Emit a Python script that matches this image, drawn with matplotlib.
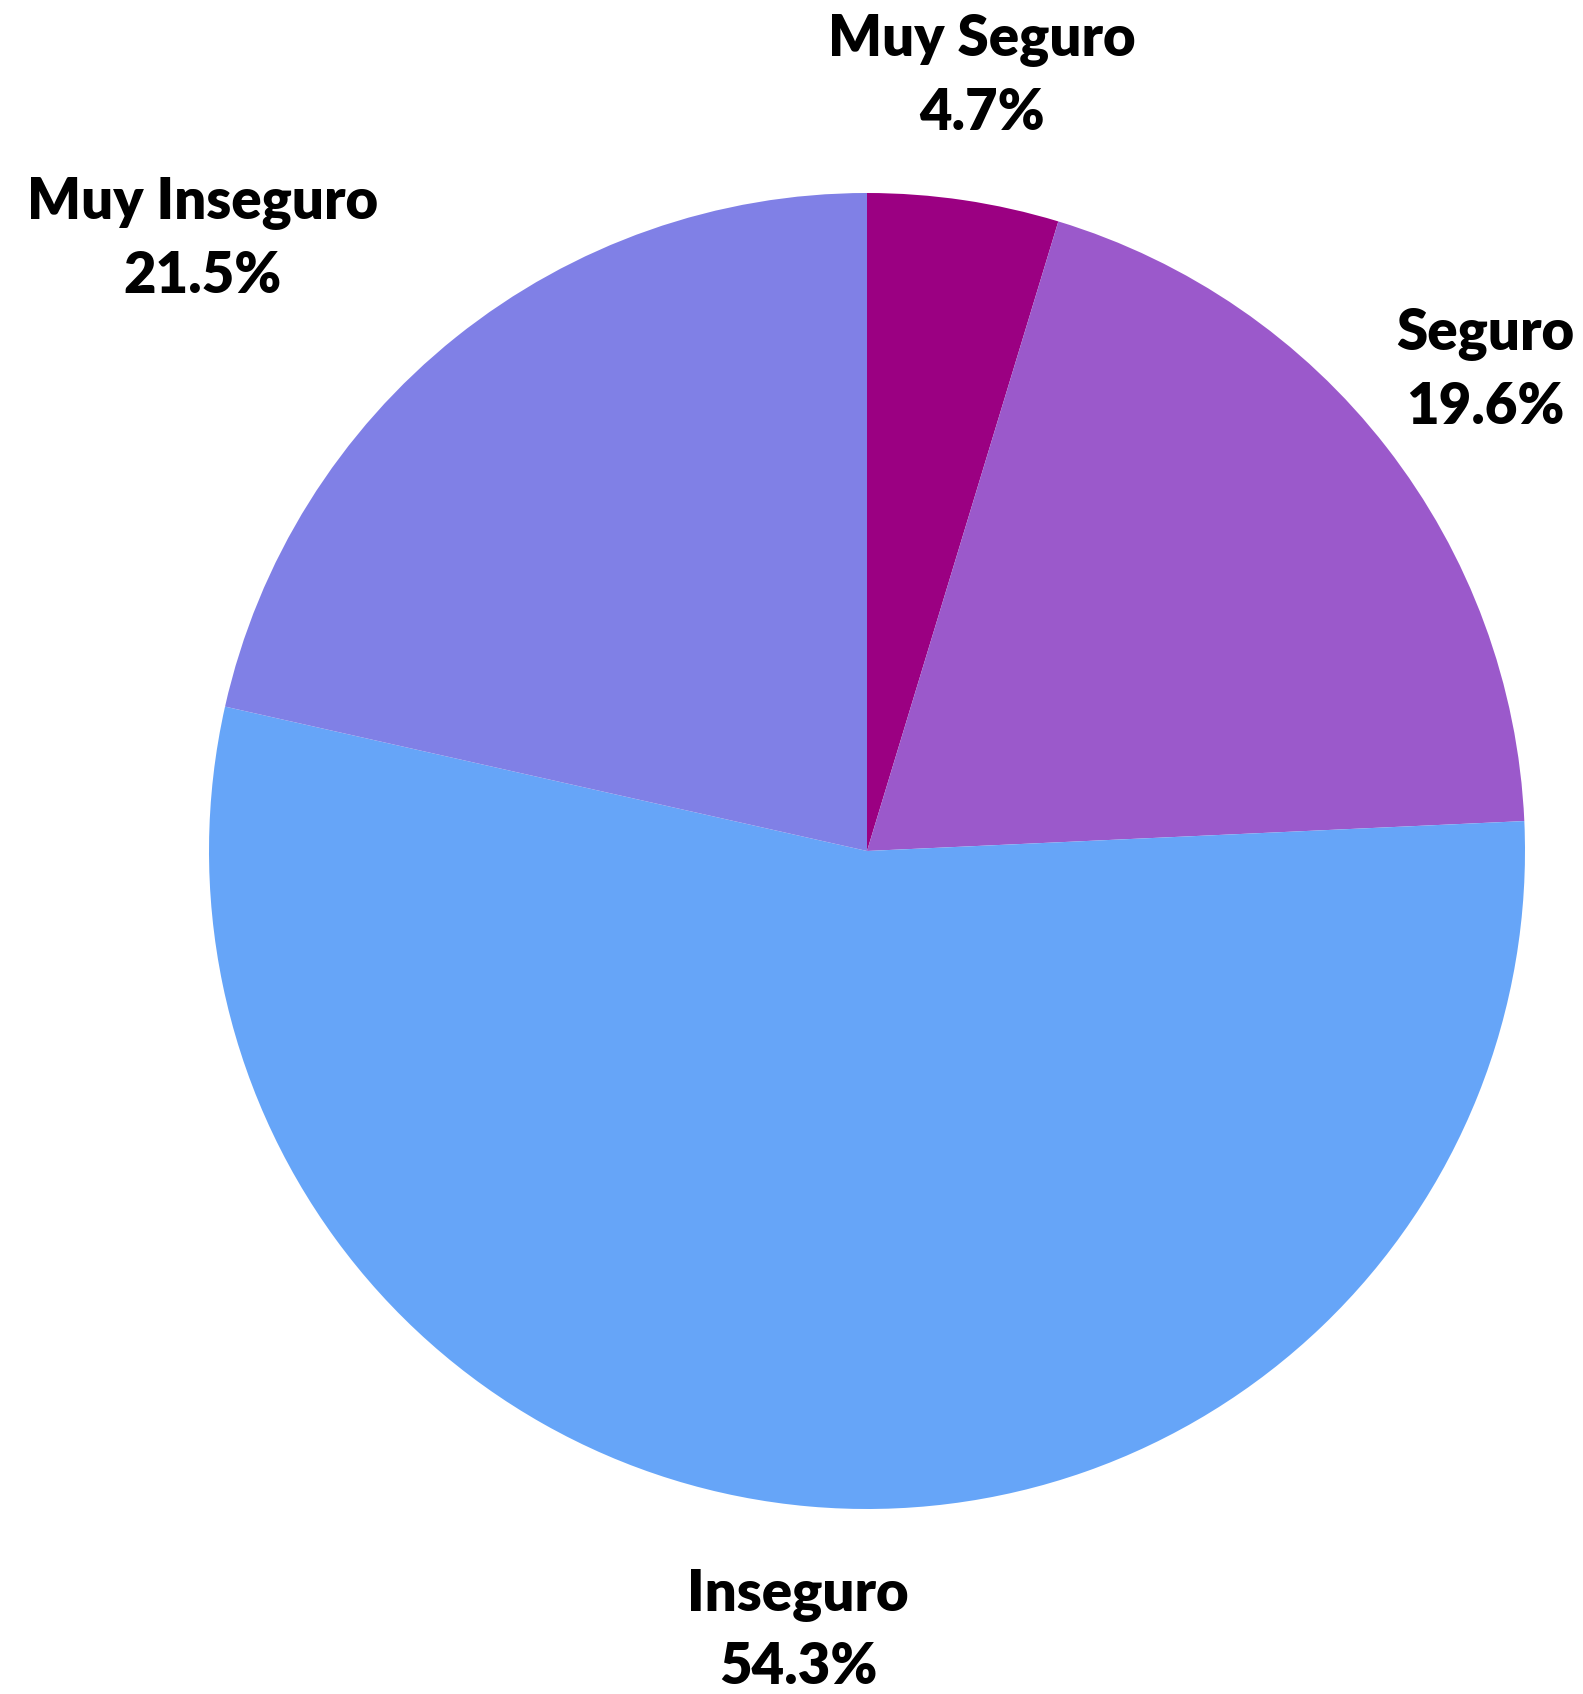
import matplotlib.pyplot as plt

# --- DONNEES ---
categorias = ["Muy Seguro", "Seguro", "Inseguro", "Muy Inseguro"]
porcentajes = [4.7, 19.6, 54.3, 21.5]
colores = ["#9b0082", "#9b59cb", "#66a5f8", "#8080e6"]
alineacion = ["center", "center", "center", "right"]

plt.rcParams['font.family'] = ['Lato', 'DejaVu Sans']

fig = plt.figure(figsize=(15.83, 16.94), dpi=100)
ax = fig.add_axes([0, 0, 1, 1])

etiquetas = [f"{c}\n{p}%" for c, p in zip(categorias, porcentajes)]
wedges, textos = ax.pie(porcentajes, labels=etiquetas, colors=colores,
                        startangle=90, counterclock=False,
                        labeldistance=1.19,
                        textprops=dict(fontsize=40.5, fontweight='heavy',
                                       color='black', linespacing=1.45))
for t, ha in zip(textos, alineacion):
    t.set_ha(ha)
    t.set_va('center')
    t.set_multialignment('center')

# centre du camembert a (867, 851) px, rayon 658 px
r = 658
ax.set_xlim(-867 / r, (1583 - 867) / r)
ax.set_ylim(-(1694 - 851) / r, 851 / r)
ax.set_aspect('auto')
ax.axis('off')

fig.savefig("out.png", dpi=100)
